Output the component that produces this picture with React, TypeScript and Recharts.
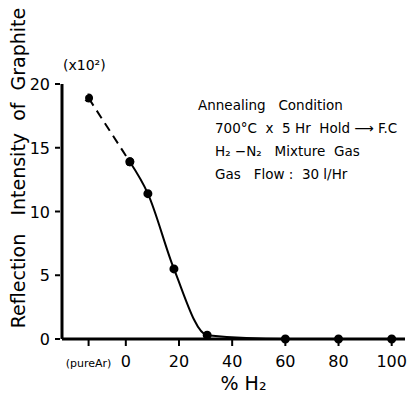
import { LineChart, Line, XAxis, YAxis, Label } from 'recharts';

// % H2 in the N2 mixture; -14 is where "(pureAr)" sits on the axis
const h2Pct = [-14, 1.5, 8.3, 18.1, 30.6, 60, 80, 100];
// reflection intensity of graphite (x10^2)
const intensity = [18.9, 13.9, 11.4, 5.5, 0.3, 0, 0, 0];
const xTicks = [-14, 0, 20, 40, 60, 80, 100];
const yTicks = [0, 5, 10, 15, 20];
const notes = [
    'Annealing   Condition',
    '700°C  x  5 Hr  Hold ⟶ F.C',
    'H₂ −N₂   Mixture  Gas',
    'Gas   Flow :  30 l/Hr',
];

// first segment (pure Ar -> 0%) is dashed, the rest solid
const data = h2Pct.map((x, i) => ({
    x,
    dashed: i <= 1 ? intensity[i] : null,
    solid: i >= 1 ? intensity[i] : null,
}));

const FONT = '"DejaVu Sans", sans-serif';

function XTick({ x, y, payload }: any) {
    const pure = payload.value === -14;
    return (
        <g>
            <line x1={x} y1={y - 1} x2={x} y2={y - 8} stroke="#000" strokeWidth={2} />
            <text
                x={x}
                y={y + 20}
                textAnchor="middle"
                fontFamily={FONT}
                fontSize={pure ? 11 : 16}
                fill="#000"
            >
                {pure ? '(pureAr)' : payload.value}
            </text>
        </g>
    );
}

function YTick({ x, y, payload }: any) {
    return (
        <g>
            <line x1={x + 1} y1={y} x2={x + 6} y2={y} stroke="#000" strokeWidth={2} />
            <text x={x - 4} y={y + 6} textAnchor="end" fontFamily={FONT} fontSize={16} fill="#000">
                {payload.value}
            </text>
        </g>
    );
}

export default function App() {
    return (
        <div style={{ position: 'absolute', left: 0, top: 0, width: 411, height: 394, background: '#fff' }}>
            <LineChart
                width={411}
                height={394}
                data={data}
                margin={{ top: 84, right: 6, left: 0, bottom: 0 }}
            >
                <XAxis
                    dataKey="x"
                    type="number"
                    domain={[-24, 105]}
                    ticks={xTicks}
                    tick={<XTick />}
                    tickLine={false}
                    height={55}
                    stroke="#000"
                    strokeWidth={3}
                    interval={0}
                >
                    <Label
                        value="% H₂"
                        position="insideBottom"
                        offset={4}
                        dx={10}
                        style={{ fontFamily: FONT, fontSize: 19, fill: '#000' }}
                    />
                </XAxis>
                <YAxis
                    type="number"
                    domain={[0, 20]}
                    ticks={yTicks}
                    tick={<YTick />}
                    tickLine={false}
                    width={62}
                    stroke="#000"
                    strokeWidth={3}
                    interval={0}
                />
                <Line
                    dataKey="dashed"
                    type="monotone"
                    stroke="#000"
                    strokeWidth={2}
                    strokeDasharray="9 6"
                    dot={{ r: 3.5, fill: '#000', stroke: '#000' }}
                    isAnimationActive={false}
                    connectNulls={false}
                />
                <Line
                    dataKey="solid"
                    type="monotone"
                    stroke="#000"
                    strokeWidth={2}
                    dot={{ r: 3.5, fill: '#000', stroke: '#000' }}
                    isAnimationActive={false}
                    connectNulls={false}
                />
            </LineChart>
            <svg
                width={411}
                height={394}
                style={{ position: 'absolute', left: 0, top: 0, pointerEvents: 'none', whiteSpace: 'pre' }}
            >
                <text
                    x={0}
                    y={0}
                    transform="translate(25 168) rotate(-90)"
                    textAnchor="middle"
                    fontFamily={FONT}
                    fontSize={19}
                    fill="#000"
                    style={{ whiteSpace: 'pre' }}
                >
                    {'Reflection   Intensity  of  Graphite'}
                </text>
                <text x={63} y={70} fontFamily={FONT} fontSize={14} fill="#000">
                    (x10²)
                </text>
                {notes.map((t, i) => (
                    <text
                        key={t}
                        x={i === 0 ? 198 : 215}
                        y={110 + i * 23}
                        fontFamily={FONT}
                        fontSize={13.5}
                        fill="#000"
                        style={{ whiteSpace: 'pre' }}
                    >
                        {t}
                    </text>
                ))}
            </svg>
        </div>
    );
}
